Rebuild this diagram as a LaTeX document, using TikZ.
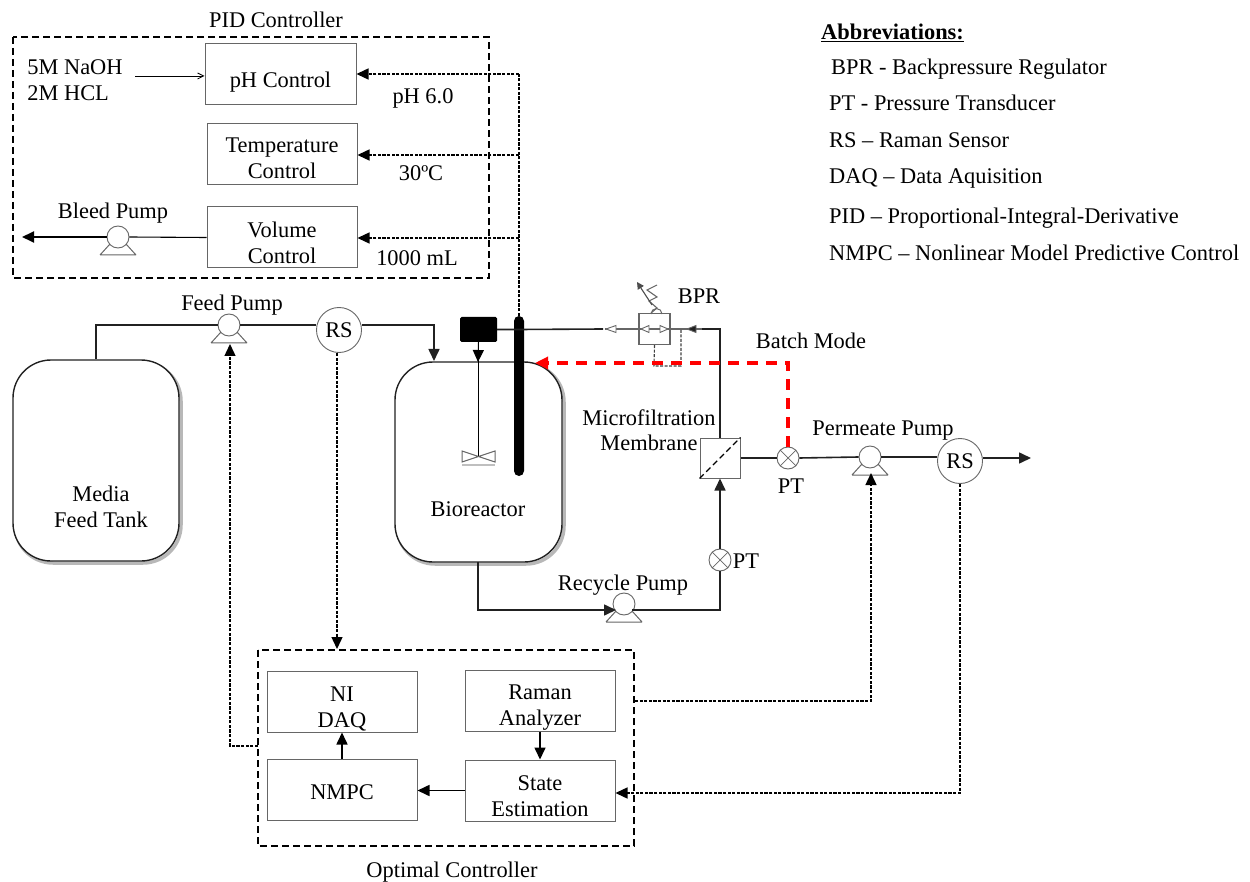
\documentclass[tikz,border=0pt]{standalone}
\usepackage{fontspec}
\setmainfont{Liberation Serif}
\usetikzlibrary{arrows.meta}
\definecolor{bline}{gray}{0.13}
\definecolor{gline}{gray}{0.4}
\newcommand{\down}[2]{\raisebox{-#1pt}[\height][\depth]{\begin{tabular}{@{}c@{}}#2\end{tabular}}}
\tikzset{
  x=1pt,y=-1pt,
  lbl/.style={font=\fontsize{22.4}{25.5}\selectfont,align=center,inner sep=0pt,text=black},
  abbr/.style={font=\fontsize{22.4}{24}\selectfont,anchor=west,inner sep=0pt},
  ctl/.style={draw=gline,line width=1pt,minimum width=150pt,minimum height=61pt,inner sep=0pt,
     font=\fontsize{22.4}{25.5}\selectfont,align=center},
  group/.style={draw=black,line width=1.5pt,dash pattern=on 7pt off 4pt},
  pipe/.style={draw=bline,line width=1.6pt},
  sig/.style={draw=black,line width=1.4pt,dash pattern=on 3.2pt off 1.4pt},
  arr/.style={-{Triangle[length=12pt,width=11pt]}},
  pumpc/.style={circle,draw=gline,fill=white,line width=.9pt,minimum size=22pt,inner sep=0pt},
  ptc/.style={circle,draw=gline,fill=white,line width=.9pt,minimum size=22pt,inner sep=0pt},
  rsc/.style={circle,draw=gline,fill=white,line width=.9pt,minimum size=45pt,inner sep=0pt,font=\fontsize{22.4}{24}\selectfont},
  tank/.style={draw=bline,fill=white,line width=1.4pt,rounded corners=38pt},
  shade/.style={draw=black!28,line width=3.5pt,rounded corners=38pt},
  valve/.style={draw=gline,fill=white,line width=.9pt},
}
\newcommand{\pumpbase}[2]{\draw[gline,line width=1pt] (#1-18,#2+18) -- (#1-8,#2+7) (#1+8,#2+7) -- (#1+18,#2+18) (#1-18,#2+18) -- (#1+18,#2+18);}
\newcommand{\ptcross}[1]{\draw[gline,line width=.7pt] (#1.45) -- (#1.225) (#1.135) -- (#1.315);}
\begin{document}
\begin{tikzpicture}
\useasboundingbox (0,0) rectangle (1250,882);
% ---- group frames
\draw[group] (13,37) rectangle (489,278);
\draw[group] (258,650) rectangle (634,846);
\node[lbl] at (276,20) {PID Controller};
\node[lbl] at (452,872) {Optimal Controller};
% ---- control boxes
\node[ctl,minimum width=151pt] (ph) at (280.5,74.5) {\down{8}{pH Control}};
\node[ctl] (temp) at (282,154.5) {\down{6}{Temperature\\Control}};
\node[ctl] (vol) at (282,237.5) {\down{8}{Volume\\Control}};
\node[ctl] (daq) at (342,701.5) {\down{8}{NI\\DAQ}};
\node[ctl] (nmpc) at (342,790) {\down{4}{NMPC}};
\node[ctl] (raman) at (540,700.5) {\down{7}{Raman\\Analyzer}};
\node[ctl] (state) at (540,790.5) {\down{8}{State\\Estimation}};
% ---- PID texts
\node[lbl,align=left] (naoh) at (75,80) {5M NaOH\\2M HCL};
\coordinate (naohend) at (135,76);
\draw[line width=.8pt,-{Straight Barb[length=6pt,width=6pt]}] (naohend) -- (ph.west |- naohend);
\node[lbl] at (423,98) {pH 6.0};
\node[lbl] at (421,173) {30ºC};
\node[lbl] at (417,258) {1000 mL};
% ---- tanks
\draw[shade] (15,363) rectangle (181,563);
\draw[shade] (397,364) rectangle (564,564);
\node[tank,minimum width=166pt,minimum height=201pt,inner sep=0pt] (media) at (96,460.5) {};
\node[lbl] at (101,507) {Media\\Feed Tank};
\node[tank,minimum width=167pt,minimum height=200pt,inner sep=0pt] (bio) at (478.5,462) {};
\node[lbl] at (478,509) {Bioreactor};
% ---- pumps
\node[pumpc] (bleed) at (118,237) {};
\node[pumpc] (feed) at (229,325) {};
\node[pumpc] (recycle) at (624,604) {};
\node[pumpc] (perm) at (870,457) {};
\pumpbase{118}{237}\pumpbase{229}{325}\pumpbase{624}{604}\pumpbase{870}{457}
\node[lbl] at (113,213) {Bleed Pump};
\node[lbl] at (232,305) {Feed Pump};
\node[lbl] at (623,585) {Recycle Pump};
\node[lbl] at (883,431) {Permeate Pump};
% ---- sensors
\node[rsc] (rs1) at (339,330) {RS};
\node[rsc] (rs2) at (960,461) {RS};
\node[ptc] (pt1) at (788,458) {};
\node[ptc] (pt2) at (720,560) {};
\ptcross{pt1}\ptcross{pt2}
\node[lbl] at (791,486) {PT};
\node[lbl] at (746,561) {PT};
% ---- membrane
\node[draw=gline,line width=1pt,fill=white,minimum size=40pt,inner sep=0pt] (mem) at (720,458) {};
\draw[black,line width=1.1pt,dash pattern=on 6pt off 3.5pt] (mem.south west) -- (mem.north east);
\node[lbl] at (649,430) {Microfiltration\\Membrane};
% ---- stirrer and probe
\node[fill=black,rounded corners=1.5pt,minimum width=37pt,minimum height=25pt,inner sep=0pt] (motor) at (478.5,329.5) {};
\node[fill=black,rounded corners=5pt,minimum width=10pt,minimum height=160pt,inner sep=0pt] (probe) at (519,396) {};
\coordinate (imp) at (478,457);
\draw[line width=1pt,arr] (motor.south) -- (478,362);
\draw[line width=1pt] (478,360) -- (imp);
\draw[black!25,line width=2.5pt] (462,465) -- (495,465);
\draw[gline,line width=1pt,fill=white] (462,451) -- (495,462) -- (495,451) -- (462,462) -- cycle;
% ---- process piping
\draw[pipe] (media.north -| 96,360) -- (96,325) -- (feed.west);
\draw[pipe] (feed.east) -- (rs1.west |- feed.east);
\draw[pipe,arr] (rs1.east |- feed.east) -- (434,325) -- (434,361);
\draw[pipe] (motor.east) -- (probe.center |- motor.east) -- (603,329);
\coordinate (bprend) at (702,329);
\draw[pipe] (mem.north) -- (720,329) -- (bprend);
\draw[pipe,arr] (478,562) -- (478,610) -- (616,610);
\draw[pipe] (632,610) -- (720,610) -- (pt2.south);
\draw[pipe,arr] (pt2.north) -- (mem.south);
\draw[pipe] (mem.east) -- (pt1.west);
\draw[pipe] (pt1.east) -- (perm.west);
\draw[pipe] (perm.east) -- (rs2.west |- perm.east);
\coordinate (outlet) at (1031,458);
\draw[pipe,arr] (rs2.east |- outlet) -- (outlet);
\draw[line width=1.1pt,draw=black] (vol.west) -- (bleed.east);
\coordinate (bleedout) at (22,237);
\draw[line width=1.8pt,arr] (bleed.west) -- (bleedout);
% ---- BPR
\node[draw=gline,line width=1.1pt,minimum size=31pt,inner sep=0pt] (bpr) at (654.5,329) {};
\draw[gline,line width=1.2pt] (605,329) -- (702,329);
\draw[valve] (606,329) -- (616,325.5) -- (616,332.5) -- cycle;
\draw[valve] (641,329) -- (649,325.5) -- (649,332.5) -- cycle;
\draw[valve] (668,329) -- (660,325.5) -- (660,332.5) -- cycle;
\draw[valve,fill=bline] (687,329) -- (696,325.5) -- (696,332.5) -- cycle;
\draw[black!75,line width=1.1pt,dash pattern=on 3pt off 1.5pt] (bpr.south) -- (654,366) -- (681,366) -- (681,329);
\draw[gline,line width=1pt] (651,314) arc[start angle=180,end angle=0,radius=5.5pt];
\draw[gline,line width=1.1pt] (651,313) -- (657,308) -- (649,301) -- (657,297) -- (647,290) -- (657,285);
\draw[black!70,line width=1.1pt,-{Triangle[length=7pt,width=7pt]}] (652,305) -- (637,282);
\node[lbl] at (699,296) {BPR};
% ---- signals
\draw[sig] (probe.north) -- (519,74);
\draw[sig,arr] (519,74) -- (ph.east |- 0,74);
\draw[sig,arr] (519,155) -- (temp.east |- 0,155);
\draw[sig,arr] (519,238) -- (vol.east |- 0,238);
\draw[sig,arr] (rs1.south -| 337,352) -- (337,649);
\draw[sig,arr] (258,746) -- (230,746) -- (230,344);
\draw[sig,arr] (635,701) -- (871,701) -- (871,473);
\draw[sig,arr] (rs2.south) -- (960,793) -- (state.east |- 0,793);
% ---- red dashed
\draw[red,line width=3.2pt,dash pattern=on 11pt off 8pt,-{Triangle[length=13pt,width=12pt]}] (pt1.north -| 788,447) -- (788,363) -- (535,363);
\node[lbl] at (811,341) {Batch Mode};
% ---- controller arrows
\draw[line width=1.6pt,arr] (raman.south -| 540,731) -- (state.north -| 540,760);
\draw[line width=1.6pt,arr] (state.west) -- (nmpc.east |- state.west);
\draw[line width=1.6pt,arr] (nmpc.north) -- (daq.south);
% ---- abbreviations
\node[font=\bfseries\fontsize{22.4}{24}\selectfont,anchor=west,inner sep=0pt] at (821,33) {\underline{Abbreviations:}};
\node[abbr] at (831,69) {BPR - Backpressure Regulator};
\node[abbr] at (829,103) {PT - Pressure Transducer};
\node[abbr] at (829,140) {RS – Raman Sensor};
\node[abbr] at (829,178) {DAQ – Data Aquisition};
\node[abbr] at (829,218) {PID – Proportional-Integral-Derivative};
\node[abbr] at (829,253) {NMPC – Nonlinear Model Predictive Control};
\end{tikzpicture}
\end{document}
